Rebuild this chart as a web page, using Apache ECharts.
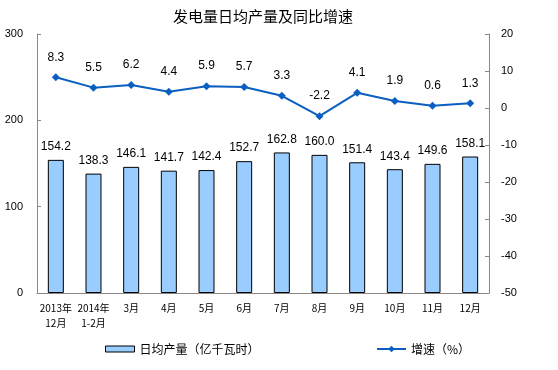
<!DOCTYPE html>
<html><head><meta charset="utf-8">
<script src="https://cdn.jsdelivr.net/npm/echarts@6/dist/echarts.min.js"></script>
<style>html,body{margin:0;padding:0;background:#fff}#c{width:558px;height:370px}</style>
</head><body><div id="c"></div>
<script>
const categories = ['2013年\n12月','2014年\n1-2月','3月','4月','5月','6月','7月','8月','9月','10月','11月','12月'];
const output = [154.2,138.3,146.1,141.7,142.4,152.7,162.8,160.0,151.4,143.4,149.6,158.1];
const growth = [8.3,5.5,6.2,4.4,5.9,5.7,3.3,-2.2,4.1,1.9,0.6,1.3];
const leftTicks = [0,100,200,300];
const rightTicks = [-50,-40,-30,-20,-10,0,10,20];
const font = '"Liberation Sans", Arial, "Noto Sans CJK SC", sans-serif';
const cjk = '"Noto Sans CJK SC", sans-serif';
const lineColor = '#0A5FC0';
const chart = echarts.init(document.getElementById('c'));
chart.setOption({
  animation:false,
  textStyle:{fontFamily:font},
  title:{text:'发电量日均产量及同比增速',left:258,textAlign:'center',top:4,
    textStyle:{fontSize:15,fontWeight:'normal',color:'#000',fontFamily:cjk}},
  legend:[
    {left:105,top:343,itemGap:5,padding:0,itemWidth:29,itemHeight:6,
     textStyle:{fontSize:12,color:'#000',fontFamily:cjk,padding:[0,0,0,0]},
     data:[{name:'日均产量（亿千瓦时）',icon:'rect',itemStyle:{color:'#99CCFF',borderColor:'#000',borderWidth:1}}]},
    {left:376,top:343,padding:0,itemWidth:29,itemHeight:8,
     textStyle:{fontSize:12,color:'#000',fontFamily:cjk},
     data:[{name:'增速（%）'}]}
  ],
  grid:{left:37,right:69,top:34,bottom:77},
  xAxis:{type:'category',data:categories,
    axisLine:{lineStyle:{color:'#888'}},
    axisTick:{inside:true,length:3,lineStyle:{color:'#888'}},
    axisLabel:{color:'#000',fontSize:10,lineHeight:15,margin:8,interval:0,fontFamily:cjk}},
  yAxis:[
    {type:'value',min:0,max:300,interval:100,
     axisLine:{show:true,lineStyle:{color:'#888'}},
     axisTick:{show:true,inside:true,length:4,lineStyle:{color:'#888'}},
     splitLine:{show:false},
     axisLabel:{color:'#000',fontSize:11,margin:14}},
    {type:'value',min:-50,max:20,interval:10,
     axisLine:{show:true,lineStyle:{color:'#888'}},
     axisTick:{show:true,inside:true,length:4,lineStyle:{color:'#888'}},
     splitLine:{show:false},
     axisLabel:{color:'#000',fontSize:11,margin:12}}
  ],
  series:[
    {name:'日均产量（亿千瓦时）',type:'bar',data:output,barWidth:16,yAxisIndex:0,
     itemStyle:{color:'#99CCFF',borderColor:'#000',borderWidth:1},
     label:{show:true,position:'top',distance:7,color:'#000',fontSize:12,formatter:p=>p.value.toFixed(1)}},
    {name:'增速（%）',type:'line',data:growth,yAxisIndex:1,
     symbol:'diamond',symbolSize:8,
     lineStyle:{color:lineColor,width:2},itemStyle:{color:lineColor},
     label:{show:true,position:'top',distance:10,color:'#000',fontSize:12,formatter:p=>p.value.toFixed(1)}}
  ]
});
</script></body></html>
